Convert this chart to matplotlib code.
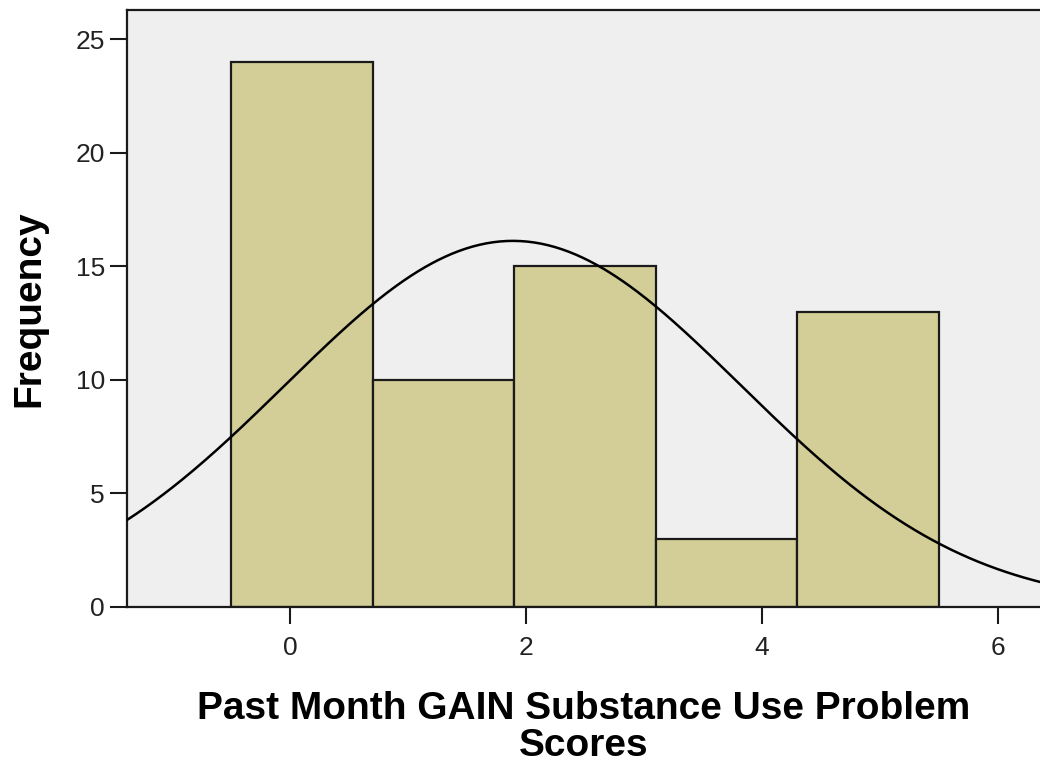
import numpy as np
import matplotlib
matplotlib.use('Agg')
import matplotlib.pyplot as plt

# histogram of scores (SPSS style, 5 bins of width 1.2)
bin_edges = [-0.5, 0.7, 1.9, 3.1, 4.3, 5.5]
counts = [24, 10, 15, 3, 13]
# summary statistics used for the normal curve
n_total = 65
mean_score = 1.89
sd_score = 1.93

x_ticks = [0, 2, 4, 6]
y_ticks = [0, 5, 10, 15, 20, 25]

plt.rcParams['font.family'] = ['Liberation Sans', 'DejaVu Sans']

fig = plt.figure(figsize=(10.4, 7.67), dpi=100)
ax = fig.add_axes([127/1040, 160/767, 913/1040, 597/767])
ax.set_facecolor('#efefef')

widths = np.diff(bin_edges)
ax.bar(bin_edges[:-1], counts, width=widths, align='edge',
       color='#d3ce97', edgecolor='#1a1a1a', linewidth=1.6, zorder=2)

xmin, xmax = -1.382, 6.36
xs = np.linspace(xmin, xmax, 400)
bw = widths[0]
ys = n_total * bw / (sd_score * np.sqrt(2 * np.pi)) * np.exp(-(xs - mean_score)**2 / (2 * sd_score**2))
ax.plot(xs, ys, color='black', linewidth=1.8, zorder=3)

ax.set_xlim(xmin, xmax)
ax.set_ylim(0, 26.29)
ax.set_xticks(x_ticks)
ax.set_yticks(y_ticks)

for s in ['left', 'bottom', 'top']:
    ax.spines[s].set_linewidth(1.6)
    ax.spines[s].set_color('#1a1a1a')
ax.spines['right'].set_visible(False)

ax.tick_params(axis='both', direction='out', length=12, width=1.5,
               labelsize=19, color='#1a1a1a', labelcolor='#222222')
ax.tick_params(axis='x', pad=9)
ax.tick_params(axis='y', pad=4)

ax.set_xlabel('Past Month GAIN Substance Use Problem\nScores',
              fontsize=28, fontweight='bold', linespacing=1.05, labelpad=22)
ax.set_ylabel('Frequency', fontsize=28, fontweight='bold', labelpad=20)

fig.savefig('out.png', dpi=100)
